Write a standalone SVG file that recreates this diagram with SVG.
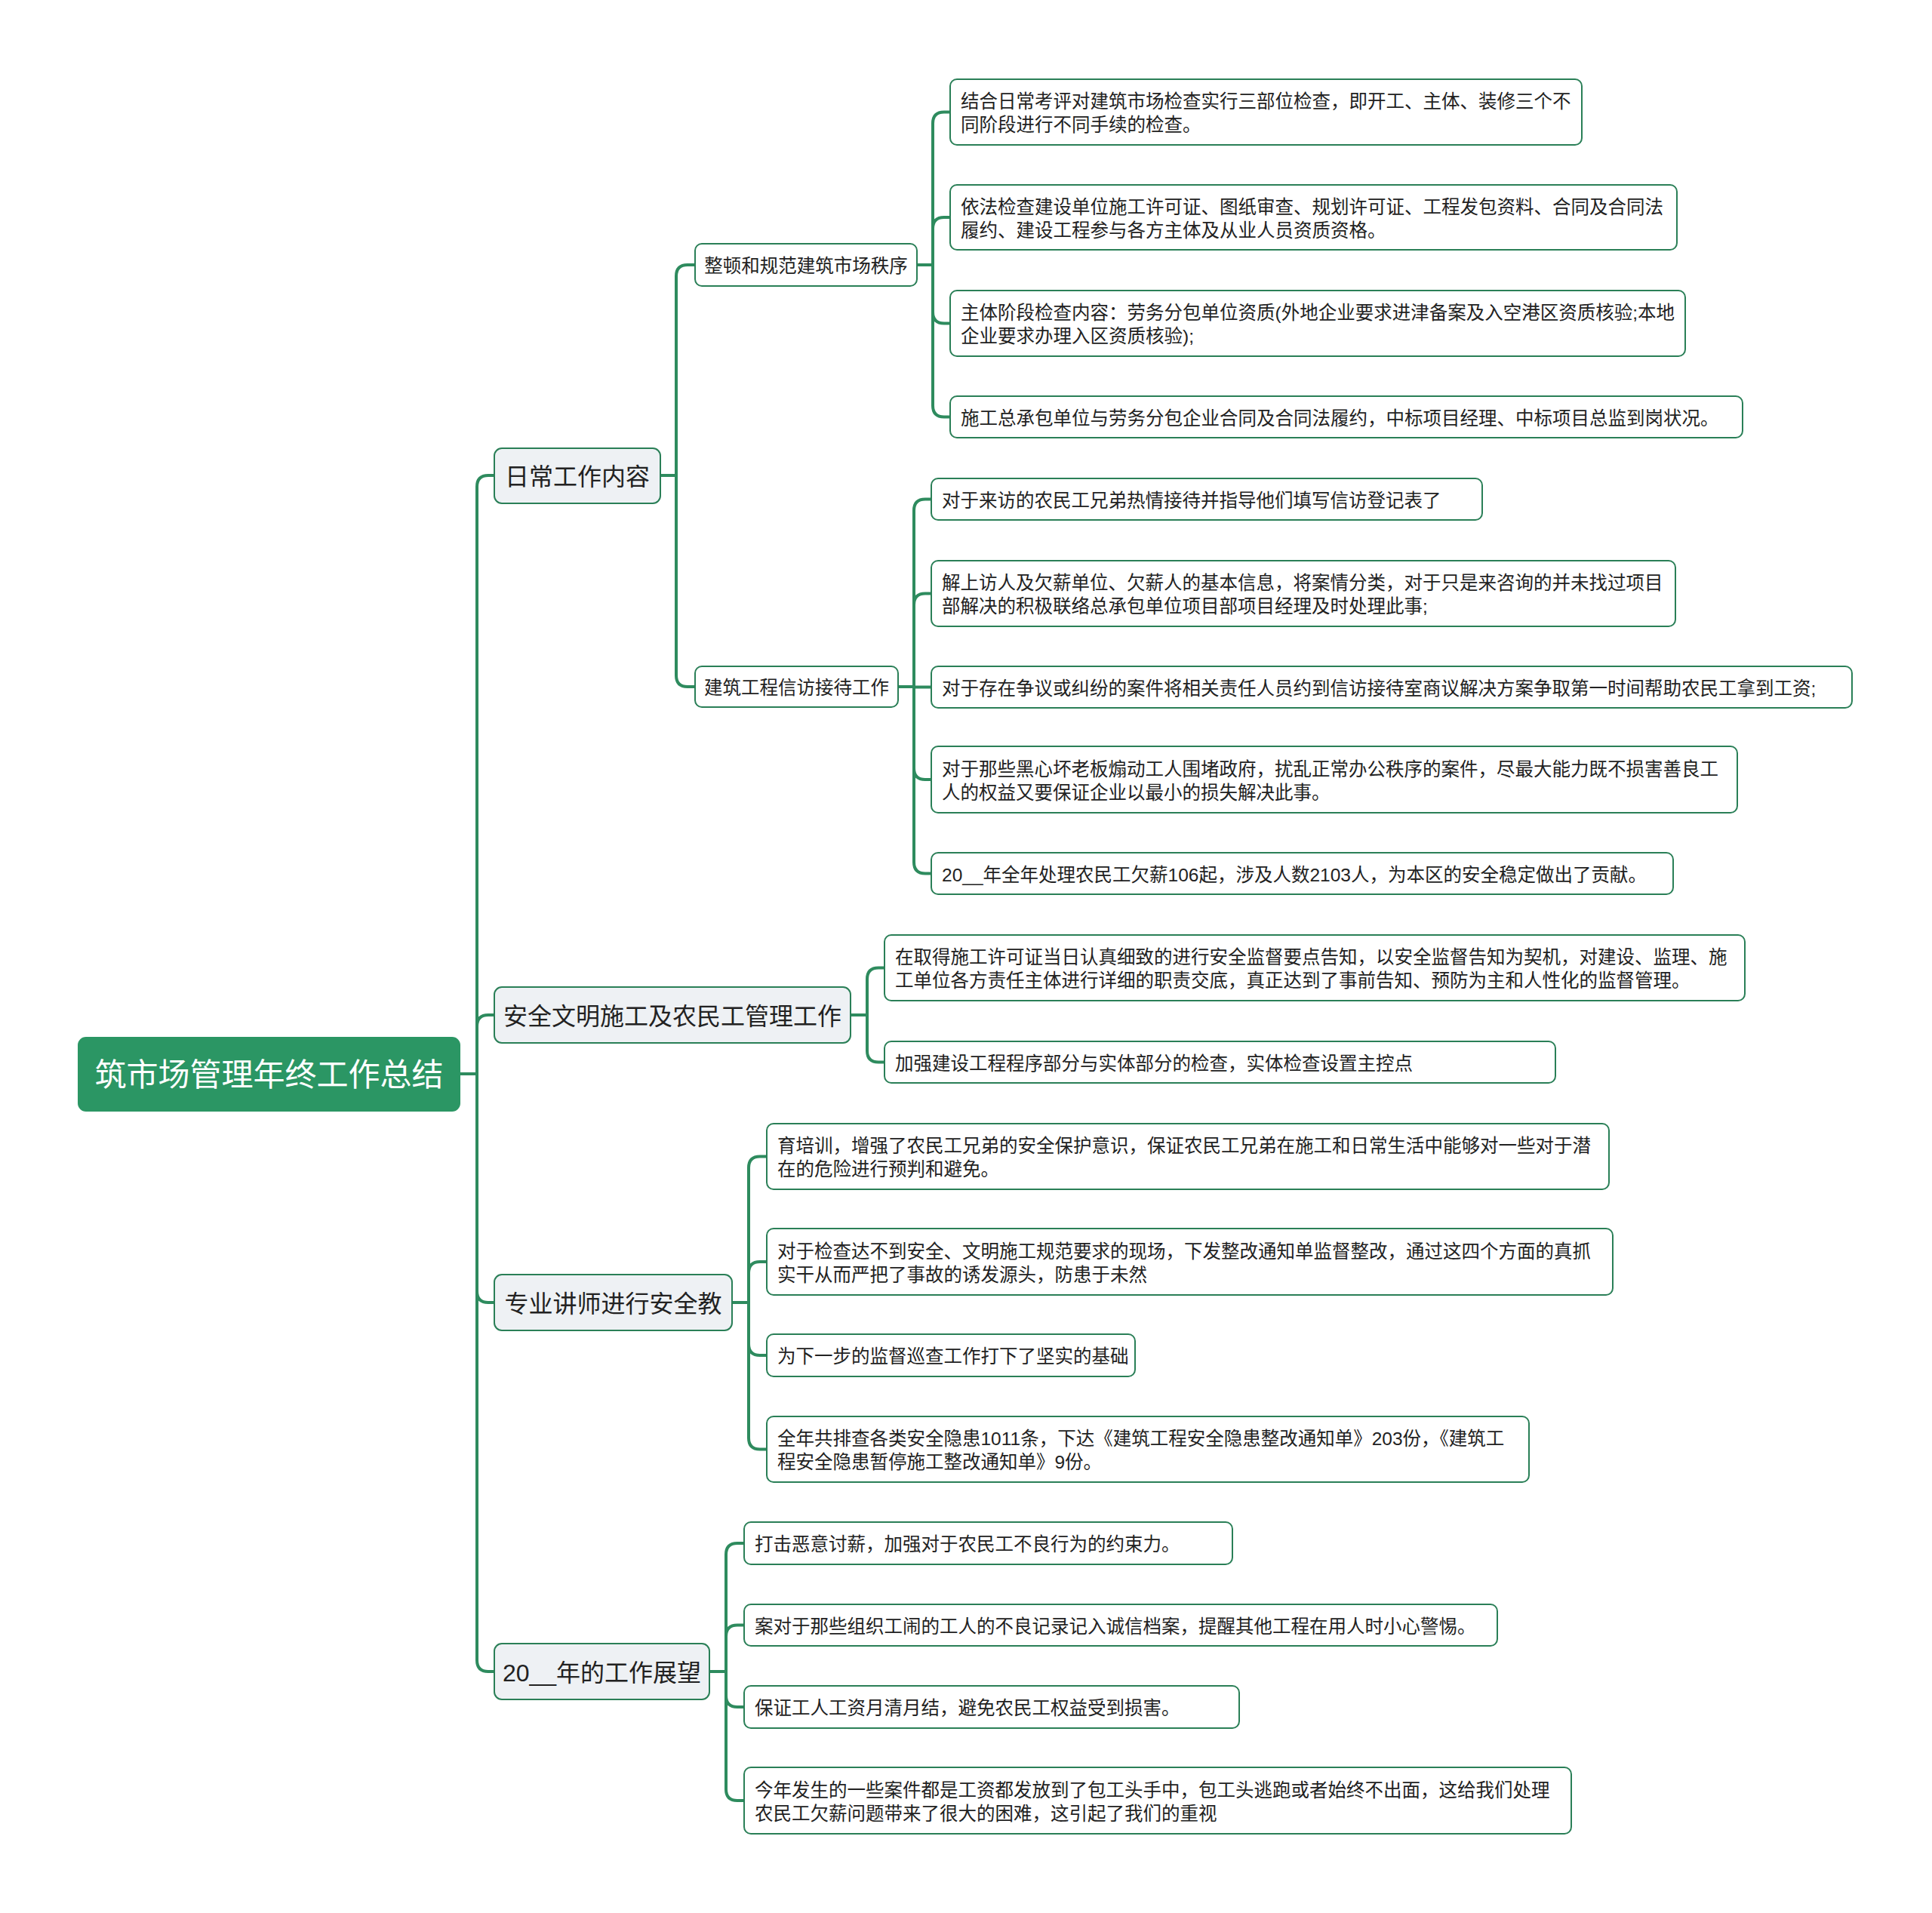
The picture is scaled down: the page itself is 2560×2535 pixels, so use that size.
<svg xmlns="http://www.w3.org/2000/svg" width="2560" height="2535" viewBox="0 0 2560 2535">
<style>
text{font-family:"Liberation Sans","Noto Sans CJK SC",sans-serif;fill:#222;}
.root rect{fill:#2b9664;stroke:#2b9664;stroke-width:2;}
.root text{fill:#fff;font-size:42px;}
.l1 rect{fill:#eef1f4;stroke:#2a7f57;stroke-width:2;}
.l1 text{font-size:32px;}
.l2 rect{fill:#ffffff;stroke:#2a7f57;stroke-width:2;}
.l2 text{font-size:24.5px;}
.leaf rect{fill:#ffffff;stroke:#2a7f57;stroke-width:2;}
.leaf text{font-size:24.5px;}
#connectors path{fill:none;stroke:#2e8b5e;stroke-width:4;stroke-linejoin:round;}
</style>
<rect x="0" y="0" width="2560" height="2535" fill="#ffffff"/>
<g id="connectors">
<path d="M609 1423 H632"/>
<path d="M632 1423 V645 Q632 630 647 630 H655"/>
<path d="M632 1423 V1360 Q632 1345 647 1345 H655"/>
<path d="M632 1423 V1711 Q632 1726 647 1726 H655"/>
<path d="M632 1423 V2200 Q632 2215 647 2215 H655"/>
<path d="M875 630 H896"/>
<path d="M896 630 V366 Q896 351 911 351 H921"/>
<path d="M896 630 V895 Q896 910 911 910 H921"/>
<path d="M1215 351 H1236"/>
<path d="M1236 351 V163.5 Q1236 148.5 1251 148.5 H1259"/>
<path d="M1236 351 V303 Q1236 288 1251 288 H1259"/>
<path d="M1236 351 V413.5 Q1236 428.5 1251 428.5 H1259"/>
<path d="M1236 351 V537.5 Q1236 552.5 1251 552.5 H1259"/>
<path d="M1190 910 H1211"/>
<path d="M1211 910 V676.5 Q1211 661.5 1226 661.5 H1234"/>
<path d="M1211 910 V801.5 Q1211 786.5 1226 786.5 H1234"/>
<path d="M1211 910.5 H1234"/>
<path d="M1211 910 V1018 Q1211 1033 1226 1033 H1234"/>
<path d="M1211 910 V1142.5 Q1211 1157.5 1226 1157.5 H1234"/>
<path d="M1127 1345 H1149"/>
<path d="M1149 1345 V1297.5 Q1149 1282.5 1164 1282.5 H1172"/>
<path d="M1149 1345 V1392.5 Q1149 1407.5 1164 1407.5 H1172"/>
<path d="M970 1726 H992"/>
<path d="M992 1726 V1547.5 Q992 1532.5 1007 1532.5 H1016"/>
<path d="M992 1726 V1687 Q992 1672 1007 1672 H1016"/>
<path d="M992 1726 V1781 Q992 1796 1007 1796 H1016"/>
<path d="M992 1726 V1905.5 Q992 1920.5 1007 1920.5 H1016"/>
<path d="M940 2215 H962"/>
<path d="M962 2215 V2060 Q962 2045 977 2045 H986"/>
<path d="M962 2215 V2168.5 Q962 2153.5 977 2153.5 H986"/>
<path d="M962 2215 V2247 Q962 2262 977 2262 H986"/>
<path d="M962 2215 V2371 Q962 2386 977 2386 H986"/>
</g>
<g id="root" class="root"><rect x="104" y="1375" width="505" height="97" rx="10"/><text x="356.5" y="1439" text-anchor="middle">筑市场管理年终工作总结</text></g>
<g id="n1" class="l1"><rect x="655" y="594" width="220" height="73" rx="10"/><text x="765" y="642.5" text-anchor="middle">日常工作内容</text></g>
<g id="n2" class="l1"><rect x="655" y="1308" width="472" height="74" rx="10"/><text x="891" y="1357.5" text-anchor="middle">安全文明施工及农民工管理工作</text></g>
<g id="n3" class="l1"><rect x="655" y="1689" width="315" height="74" rx="10"/><text x="812.5" y="1738.5" text-anchor="middle">专业讲师进行安全教</text></g>
<g id="n4" class="l1"><rect x="655" y="2178" width="285" height="74" rx="10"/><text x="797.5" y="2227.5" text-anchor="middle">20__年的工作展望</text></g>
<g id="n1a" class="l2"><rect x="921" y="323" width="294" height="56" rx="9"/><text x="1068" y="361" text-anchor="middle">整顿和规范建筑市场秩序</text></g>
<g id="n1b" class="l2"><rect x="921" y="883" width="269" height="54" rx="9"/><text x="1055.5" y="920" text-anchor="middle">建筑工程信访接待工作</text></g>
<g id="a1" class="leaf"><rect x="1259" y="105" width="837" height="87" rx="9"/><text x="1273" y="143">结合日常考评对建筑市场检查实行三部位检查，即开工、主体、装修三个不</text><text x="1273" y="174">同阶段进行不同手续的检查。</text></g>
<g id="a2" class="leaf"><rect x="1259" y="245" width="963" height="86" rx="9"/><text x="1273" y="282.5">依法检查建设单位施工许可证、图纸审查、规划许可证、工程发包资料、合同及合同法</text><text x="1273" y="313.5">履约、建设工程参与各方主体及从业人员资质资格。</text></g>
<g id="a3" class="leaf"><rect x="1259" y="385" width="974" height="87" rx="9"/><text x="1273" y="423">主体阶段检查内容：劳务分包单位资质(外地企业要求进津备案及入空港区资质核验;本地</text><text x="1273" y="454">企业要求办理入区资质核验);</text></g>
<g id="a4" class="leaf"><rect x="1259" y="525" width="1050" height="55" rx="9"/><text x="1273" y="562.5">施工总承包单位与劳务分包企业合同及合同法履约，中标项目经理、中标项目总监到岗状况。</text></g>
<g id="b1" class="leaf"><rect x="1234" y="634" width="730" height="55" rx="9"/><text x="1248" y="671.5">对于来访的农民工兄弟热情接待并指导他们填写信访登记表了</text></g>
<g id="b2" class="leaf"><rect x="1234" y="743" width="986" height="87" rx="9"/><text x="1248" y="781">解上访人及欠薪单位、欠薪人的基本信息，将案情分类，对于只是来咨询的并未找过项目</text><text x="1248" y="812">部解决的积极联络总承包单位项目部项目经理及时处理此事;</text></g>
<g id="b3" class="leaf"><rect x="1234" y="883" width="1220" height="55" rx="9"/><text x="1248" y="920.5">对于存在争议或纠纷的案件将相关责任人员约到信访接待室商议解决方案争取第一时间帮助农民工拿到工资;</text></g>
<g id="b4" class="leaf"><rect x="1234" y="989" width="1068" height="88" rx="9"/><text x="1248" y="1027.5">对于那些黑心坏老板煽动工人围堵政府，扰乱正常办公秩序的案件，尽最大能力既不损害善良工</text><text x="1248" y="1058.5">人的权益又要保证企业以最小的损失解决此事。</text></g>
<g id="b5" class="leaf"><rect x="1234" y="1130" width="983" height="55" rx="9"/><text x="1248" y="1167.5">20__年全年处理农民工欠薪106起，涉及人数2103人，为本区的安全稳定做出了贡献。</text></g>
<g id="c1" class="leaf"><rect x="1172" y="1239" width="1140" height="87" rx="9"/><text x="1186" y="1277">在取得施工许可证当日认真细致的进行安全监督要点告知，以安全监督告知为契机，对建设、监理、施</text><text x="1186" y="1308">工单位各方责任主体进行详细的职责交底，真正达到了事前告知、预防为主和人性化的监督管理。</text></g>
<g id="c2" class="leaf"><rect x="1172" y="1380" width="889" height="55" rx="9"/><text x="1186" y="1417.5">加强建设工程程序部分与实体部分的检查，实体检查设置主控点</text></g>
<g id="d1" class="leaf"><rect x="1016" y="1489" width="1116" height="87" rx="9"/><text x="1030" y="1527">育培训，增强了农民工兄弟的安全保护意识，保证农民工兄弟在施工和日常生活中能够对一些对于潜</text><text x="1030" y="1558">在的危险进行预判和避免。</text></g>
<g id="d2" class="leaf"><rect x="1016" y="1628" width="1121" height="88" rx="9"/><text x="1030" y="1666.5">对于检查达不到安全、文明施工规范要求的现场，下发整改通知单监督整改，通过这四个方面的真抓</text><text x="1030" y="1697.5">实干从而严把了事故的诱发源头，防患于未然</text></g>
<g id="d3" class="leaf"><rect x="1016" y="1768" width="488" height="56" rx="9"/><text x="1030" y="1806">为下一步的监督巡查工作打下了坚实的基础</text></g>
<g id="d4" class="leaf"><rect x="1016" y="1877" width="1010" height="87" rx="9"/><text x="1030" y="1915">全年共排查各类安全隐患1011条，下达《建筑工程安全隐患整改通知单》203份，《建筑工</text><text x="1030" y="1946">程安全隐患暂停施工整改通知单》9份。</text></g>
<g id="e1" class="leaf"><rect x="986" y="2017" width="647" height="56" rx="9"/><text x="1000" y="2055">打击恶意讨薪，加强对于农民工不良行为的约束力。</text></g>
<g id="e2" class="leaf"><rect x="986" y="2126" width="998" height="55" rx="9"/><text x="1000" y="2163.5">案对于那些组织工闹的工人的不良记录记入诚信档案，提醒其他工程在用人时小心警惕。</text></g>
<g id="e3" class="leaf"><rect x="986" y="2234" width="656" height="56" rx="9"/><text x="1000" y="2272">保证工人工资月清月结，避免农民工权益受到损害。</text></g>
<g id="e4" class="leaf"><rect x="986" y="2342" width="1096" height="88" rx="9"/><text x="1000" y="2380.5">今年发生的一些案件都是工资都发放到了包工头手中，包工头逃跑或者始终不出面，这给我们处理</text><text x="1000" y="2411.5">农民工欠薪问题带来了很大的困难，这引起了我们的重视</text></g>
</svg>
